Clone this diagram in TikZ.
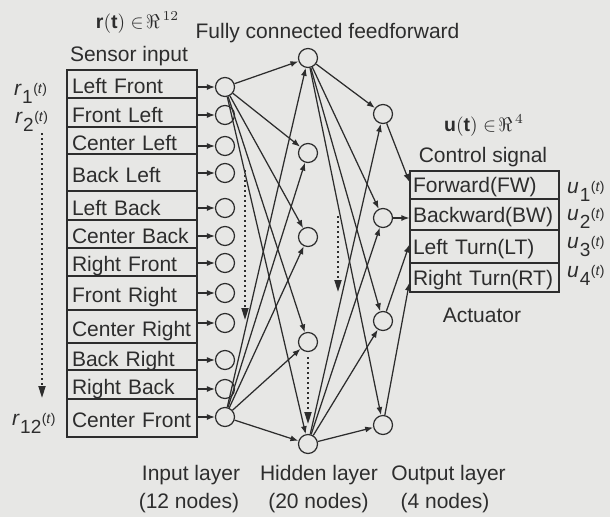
\documentclass[tikz,border=0pt]{standalone}
\usepackage{fontspec}
\setmainfont{Liberation Sans}
\usetikzlibrary{arrows.meta,calc}
\definecolor{bg}{RGB}{231,231,229}
\definecolor{ink}{RGB}{45,45,45}
\newcommand{\siglab}[2]{{\fontsize{21}{21}\selectfont\itshape #1}\kern1pt\raisebox{-8pt}{\fontsize{19}{19}\selectfont #2}\kern0.5pt\raisebox{2pt}{\fontsize{14}{14}\selectfont(\textit{t})}}
\begin{document}
\begin{tikzpicture}[x=1pt,y=-1pt,
  neuron/.style={circle,draw=ink,line width=1.2pt,minimum size=19pt,inner sep=0pt},
  rowbox/.style={draw=ink,line width=1.2pt,minimum width=130pt,text width=120pt,inner xsep=5pt,inner ysep=0pt,align=left,text height=20pt,text depth=1pt,text=ink,font=\fontsize{21}{21}\selectfont},
  actbox/.style={rowbox,minimum width=149pt,text width=143pt,inner xsep=3pt,text height=16pt,text depth=1pt},
  lab/.style={font=\fontsize{21}{21}\selectfont,text=ink,inner sep=0pt,anchor=base},
  mathlab/.style={font=\normalsize,text=ink,inner sep=0pt,anchor=base,scale=1.95},
  sig/.style={text=ink,inner sep=0pt,anchor=base west},
  arr/.style={draw=ink,line width=1.25pt,-{Latex[length=8pt,width=6pt]}},
  dotarr/.style={draw=ink,line width=1.8pt,dash pattern=on 1.8pt off 3.2pt,-{Triangle[length=12pt,width=7pt]}},
]
\fill[bg] (0,0) rectangle (610,517);
\useasboundingbox (0,0) rectangle (610,517);

% sensor rows
\foreach \i/\ya/\yb/\txt in {1/70/98/Left Front, 2/98/127/Front Left, 3/127/154/Center Left, 4/154/191/Back Left, 5/191/220/Left Back, 6/220/248/Center Back, 7/248/276/Right Front, 8/276/310/Front Right, 9/310/343/Center Right, 10/343/370/Back Right, 11/370/399/Right Back, 12/399/437/Center Front}{
  \node[rowbox, minimum height={\yb-\ya}] (row\i) at (132,{(\ya+\yb)/2}) {\txt};
}

% input neurons
\foreach \i/\y in {1/87, 2/115, 3/146, 4/173, 5/208, 6/236, 7/263, 8/293, 9/323, 10/360, 11/389, 12/417}{
  \node[neuron] (in\i) at (225,\y) {};
  \draw[arr] (row\i.east |- in\i) -- (in\i);
}

% hidden neurons
\foreach \i/\y in {1/58, 2/153, 3/237, 4/342, 5/444}{
  \node[neuron] (h\i) at (308,\y) {};
}
% output neurons
\foreach \i/\y in {1/114, 2/218, 3/321, 4/425}{
  \node[neuron] (o\i) at (383,\y) {};
}

% connections
\foreach \s in {1,12}{
  \foreach \h in {1,...,5}{
    \draw[arr] (in\s) -- (h\h);
  }
}
\foreach \h in {1,5}{
  \foreach \o in {1,...,4}{
    \draw[arr] (h\h) -- (o\o);
  }
}

% actuator rows
\foreach \i/\ya/\yb/\txt in {1/171/199/Forward(FW), 2/199/230/Backward(BW), 3/230/263/Left Turn(LT), 4/263/292/Right Turn(RT)}{
  \node[actbox, minimum height={\yb-\ya}] (act\i) at (484.5,{(\ya+\yb)/2}) {\txt};
}
\draw[arr] (o1) -- ([yshift=3pt]act1.west);
\draw[arr] (o2) -- (o2 -| act2.west);
\draw[arr] (o3) -- ([yshift=2pt]act3.west);
\draw[arr] (o4) -- ([yshift=-5pt]act4.west);

% dotted arrows
\coordinate (d1s) at (42,133); \coordinate (d1e) at (42,398);
\coordinate (d2s) at (245,170); \coordinate (d2e) at (245,320);
\coordinate (d3s) at (308,357); \coordinate (d3e) at (308,424);
\coordinate (d4s) at (338,216); \coordinate (d4e) at (338,292);
\draw[dotarr] (d1s) -- (d1e);
\draw[dotarr] (d2s) -- (d2e);
\draw[dotarr] (d3s) -- (d3e);
\draw[dotarr] (d4s) -- (d4e);

% signal labels
\node[sig] (lr1) at (14,95) {\siglab{r}{1}};
\node[sig] (lr2) at (15,123) {\siglab{r}{2}};
\node[sig] (lr12) at (12,425) {\siglab{r}{12}};
\node[sig] (lu1) at (567,193) {\siglab{u}{1}};
\node[sig] (lu2) at (567,220) {\siglab{u}{2}};
\node[sig] (lu3) at (567,248) {\siglab{u}{3}};
\node[sig] (lu4) at (567,277) {\siglab{u}{4}};

% formulas
\node[mathlab] (rR) at (137.5,28) {$\mathbf{r(t)}\in\!\Re^{\,12}$};
\node[mathlab] (uR) at (484,131) {$\mathbf{u(t)}\in\!\Re^{\,4}$};

% texts
\node[lab] (title) at (327.5,38) {Fully connected feedforward};
\node[lab] (sensor) at (129,61) {Sensor input};
\node[lab] (ctrl) at (483,162) {Control signal};
\node[lab] (actu) at (482,322) {Actuator};
\node[lab] (inl) at (191,480) {Input layer};
\node[lab] (hidl) at (319,480) {Hidden layer};
\node[lab] (outl) at (448.5,480) {Output layer};
\node[lab] (inn) at (189,508) {(12 nodes)};
\node[lab] (hidn) at (318.5,508) {(20 nodes)};
\node[lab] (outn) at (445,508) {(4 nodes)};
\end{tikzpicture}
\end{document}
